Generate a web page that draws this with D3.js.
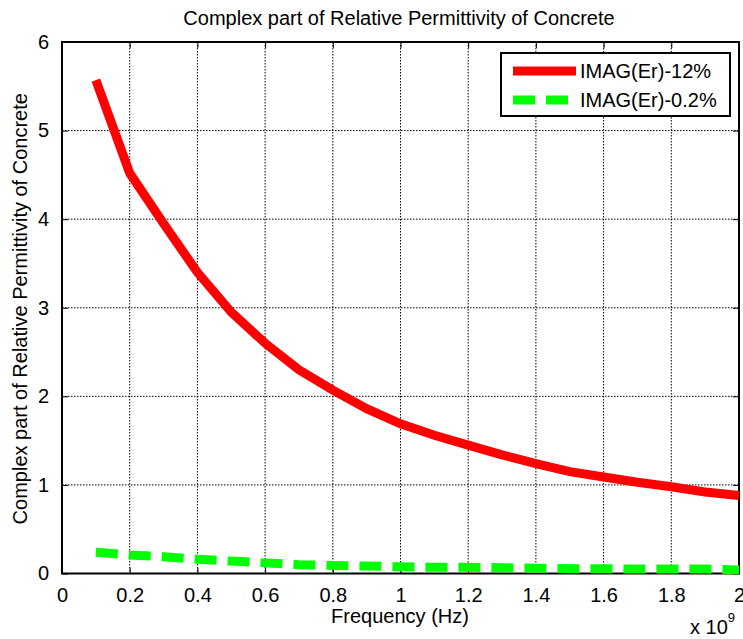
<!DOCTYPE html>
<html lang="en">
    <head>
        <meta charset="utf-8">
        <title>Complex part of Relative Permittivity of Concrete</title>
        <script type="text/javascript" src="https://cdn.jsdelivr.net/npm/d3@7/dist/d3.min.js"></script>
        <style type="text/css">
            body { margin: 0; background: #fff; }
            text { font-family: Arial, "Liberation Sans", sans-serif; fill: #000; }
        </style>
    </head>
    <body>
        <script type="text/javascript">
        // data (frequency in units of 1e9 Hz)
        var freq = [0.1, 0.2, 0.3, 0.4, 0.5, 0.6, 0.7, 0.8, 0.9, 1.0,
                    1.1, 1.2, 1.3, 1.4, 1.5, 1.6, 1.7, 1.8, 1.9, 2.0];
        var imag12 = [5.57, 4.52, 3.95, 3.40, 2.95, 2.60, 2.30, 2.07, 1.86, 1.69,
                      1.56, 1.45, 1.34, 1.24, 1.15, 1.09, 1.03, 0.98, 0.92, 0.88];
        var imag02 = [0.24, 0.21, 0.19, 0.16, 0.14, 0.12, 0.10, 0.09, 0.085, 0.075,
                      0.07, 0.07, 0.065, 0.06, 0.055, 0.055, 0.05, 0.05, 0.05, 0.04];
        var xTicks = [0, 0.2, 0.4, 0.6, 0.8, 1, 1.2, 1.4, 1.6, 1.8, 2];
        var yTicks = [0, 1, 2, 3, 4, 5, 6];
        var seriesNames = ["IMAG(Er)-12%", "IMAG(Er)-0.2%"];

        var svgWidth = 743, svgHeight = 639;
        var pLeft = 62, pTop = 42, pRight = 739, pBottom = 573.5;
        var fontSize = "20px";

        var svg = d3.select("body").append("svg")
            .attr("width", svgWidth)
            .attr("height", svgHeight);

        var x = d3.scaleLinear().domain([0, 2]).range([pLeft, pRight]);
        var y = d3.scaleLinear().domain([0, 6]).range([pBottom, pTop]);

        // grid
        svg.append("g").selectAll("line").data(xTicks.slice(1, -1)).enter().append("line")
            .attr("x1", d => x(d)).attr("x2", d => x(d))
            .attr("y1", pTop).attr("y2", pBottom)
            .attr("stroke", "#000").attr("stroke-width", 1).attr("stroke-dasharray", "1.5,1.5");
        svg.append("g").selectAll("line").data(yTicks.slice(1, -1)).enter().append("line")
            .attr("y1", d => y(d)).attr("y2", d => y(d))
            .attr("x1", pLeft).attr("x2", pRight)
            .attr("stroke", "#000").attr("stroke-width", 1).attr("stroke-dasharray", "1.5,1.5");

        // axes, ticks pointing inward like matlab
        var xAxis = d3.axisBottom(x).tickValues(xTicks).tickSize(-6).tickPadding(14)
            .tickFormat(d3.format("~g"));
        var xTop = d3.axisTop(x).tickValues(xTicks).tickSize(-6).tickFormat("");
        var yAxis = d3.axisLeft(y).tickValues(yTicks).tickSize(-6).tickPadding(13)
            .tickFormat(d3.format("d"));
        var yRight = d3.axisRight(y).tickValues(yTicks).tickSize(-6).tickFormat("");

        function styleAxis(g) {
            g.select(".domain").remove();
            g.selectAll(".tick line").attr("stroke", "#000").attr("stroke-width", 1);
            g.selectAll("text").style("font-size", fontSize);
        }
        svg.append("g").attr("transform", "translate(0," + pBottom + ")").call(xAxis).call(styleAxis);
        svg.append("g").attr("transform", "translate(0," + pTop + ")").call(xTop).call(styleAxis);
        svg.append("g").attr("transform", "translate(" + pLeft + ",0)").call(yAxis).call(styleAxis);
        svg.append("g").attr("transform", "translate(" + pRight + ",0)").call(yRight).call(styleAxis);

        svg.append("rect")
            .attr("x", pLeft).attr("y", pTop)
            .attr("width", pRight - pLeft).attr("height", pBottom - pTop)
            .attr("fill", "none").attr("stroke", "#000").attr("stroke-width", 2);

        // lines
        var line = d3.line().x(d => x(d[0])).y(d => y(d[1]));
        svg.append("path")
            .datum(d3.zip(freq, imag12))
            .attr("d", line)
            .attr("fill", "none").attr("stroke", "#ff0000").attr("stroke-width", 9);
        svg.append("path")
            .datum(d3.zip(freq, imag02))
            .attr("d", line)
            .attr("fill", "none").attr("stroke", "#00ff00").attr("stroke-width", 9)
            .attr("stroke-dasharray", "22,11");

        // title and labels
        svg.append("text").attr("x", 399).attr("y", 25).attr("text-anchor", "middle")
            .style("font-size", fontSize).text("Complex part of Relative Permittivity of Concrete");
        svg.append("text").attr("x", 400).attr("y", 623).attr("text-anchor", "middle")
            .style("font-size", fontSize).text("Frequency (Hz)");
        svg.append("text").attr("transform", "translate(27," + ((pTop + pBottom) / 2 + 1) + ") rotate(-90)")
            .attr("text-anchor", "middle")
            .style("font-size", fontSize).text("Complex part of Relative Permittivity of Concrete");
        var ex = svg.append("text").attr("x", 690).attr("y", 634).style("font-size", fontSize);
        ex.append("tspan").text("x 10");
        ex.append("tspan").attr("dy", -12).style("font-size", "13px").text("9");

        // legend
        var legend = svg.append("g");
        legend.append("rect")
            .attr("x", 501).attr("y", 53).attr("width", 229).attr("height", 63)
            .attr("fill", "#fff").attr("stroke", "#000").attr("stroke-width", 2);
        var legColors = ["#ff0000", "#00ff00"];
        var legDash = [null, "22,11"];
        seriesNames.forEach(function(name, i) {
            var ly = 71 + i * 29;
            legend.append("line")
                .attr("x1", 513).attr("x2", 576).attr("y1", ly).attr("y2", ly)
                .attr("stroke", legColors[i]).attr("stroke-width", 9)
                .attr("stroke-dasharray", legDash[i]);
            legend.append("text").attr("x", 580).attr("y", ly + 7)
                .style("font-size", fontSize).text(name);
        });
        </script>
    </body>
</html>
